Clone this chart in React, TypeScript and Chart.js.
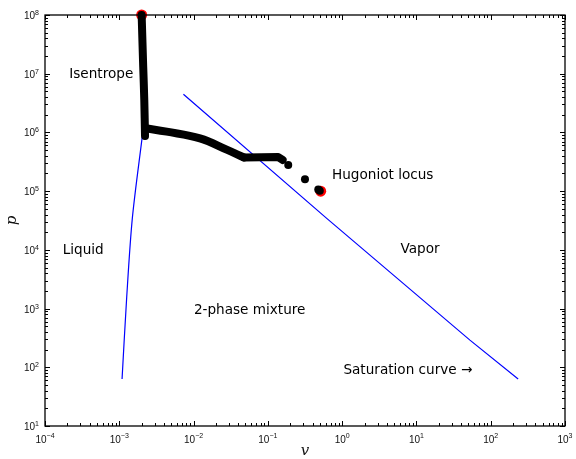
import { useEffect, useRef } from 'react';
import { Chart, registerables } from 'chart.js';

Chart.register(...registerables);

// Isentrope (dense black band) from the initial state downward
const isentropeV = [2.0e-3, 2.1e-3, 2.17e-3, 2.22e-3];
const isentropeP = [1e8, 1.3e7, 3.6e6, 8.7e5];

// Hugoniot locus: curved branch, then the plateau
const hugoniotV = [2.25e-3, 4.35e-3, 0.0122, 0.0279, 0.0477];
const hugoniotP = [1.18e6, 1.03e6, 7.9e5, 5.1e5, 3.75e5];
const plateauV = [0.0477, 0.138, 0.158];
const plateauP = [3.75e5, 3.8e5, 3.4e5];

// Hugoniot locus, isolated states near the end
const tailV = [0.188, 0.316, 0.477, 0.5];
const tailP = [2.8e5, 1.6e5, 1.07e5, 1.02e5];

// Initial and final states
const endV = [2.0e-3, 0.514];
const endP = [1e8, 1.0e5];

// Saturation curve: liquid branch and vapor branch
const liquidV = [1.09e-3, 1.26e-3, 1.5e-3, 2.05e-3];
const liquidP = [63, 1600, 3.5e4, 9.0e5];
const vaporV = [7.3e-3, 0.62, 52.5, 234];
const vaporP = [4.46e6, 3.44e4, 290, 63];

// Decade exponents for the axis tick labels
const xTickExp = [-4, -3, -2, -1, 0, 1, 2, 3];
const yTickExp = [1, 2, 3, 4, 5, 6, 7, 8];

// Region notes (left edge, baseline) in data coordinates
const noteText = ['Isentrope', 'Hugoniot locus', 'Liquid', 'Vapor', '2-phase mixture', 'Saturation curve \u2192'];
const noteV = [2.12e-4, 0.73, 1.73e-4, 6.1, 0.0101, 1.04];
const noteP = [8.4e6, 1.59e5, 8.4e3, 8.7e3, 805, 76.5];

const pts = (xs: number[], ys: number[]) => xs.map((x, i) => ({ x, y: ys[i] }));

const supLabel = (exp: number) => (exp < 0 ? '\u2212' + Math.abs(exp) : String(exp));

const framePlugin = {
  id: 'frame',
  afterDraw(chart: any) {
    const { ctx, chartArea: a, scales } = chart;
    const xs = scales.x;
    const ys = scales.y;
    ctx.save();

    // ticks, inward on all four sides
    ctx.strokeStyle = '#000';
    ctx.lineWidth = 1;
    ctx.beginPath();
    for (let e = xTickExp[0]; e <= xTickExp[xTickExp.length - 1]; e++) {
      for (let m = 1; m <= 9; m++) {
        if (e === xTickExp[xTickExp.length - 1] && m > 1) break;
        const px = Math.round(xs.getPixelForValue(m * Math.pow(10, e))) + 0.5;
        const len = m === 1 ? 5 : 3;
        ctx.moveTo(px, a.bottom);
        ctx.lineTo(px, a.bottom - len);
        ctx.moveTo(px, a.top);
        ctx.lineTo(px, a.top + len);
      }
    }
    for (let e = yTickExp[0]; e <= yTickExp[yTickExp.length - 1]; e++) {
      for (let m = 1; m <= 9; m++) {
        if (e === yTickExp[yTickExp.length - 1] && m > 1) break;
        const py = Math.round(ys.getPixelForValue(m * Math.pow(10, e))) + 0.5;
        const len = m === 1 ? 5 : 3;
        ctx.moveTo(a.left, py);
        ctx.lineTo(a.left + len, py);
        ctx.moveTo(a.right, py);
        ctx.lineTo(a.right - len, py);
      }
    }
    ctx.stroke();

    // frame
    ctx.lineWidth = 1.3;
    ctx.strokeRect(a.left, a.top, a.right - a.left, a.bottom - a.top);

    // tick labels: 10 with superscript exponent
    ctx.fillStyle = '#111';
    const baseFont = '10px "Liberation Sans", Arial, sans-serif';
    const supFont = '7px "Liberation Sans", Arial, sans-serif';
    ctx.textBaseline = 'alphabetic';
    xTickExp.forEach((e) => {
      const px = xs.getPixelForValue(Math.pow(10, e));
      const s = supLabel(e);
      ctx.font = baseFont;
      const wb = ctx.measureText('10').width;
      ctx.font = supFont;
      const ws = ctx.measureText(s).width;
      const x0 = px - (wb + ws) / 2;
      ctx.textAlign = 'left';
      ctx.font = baseFont;
      ctx.fillText('10', x0, a.bottom + 17);
      ctx.font = supFont;
      ctx.fillText(s, x0 + wb, a.bottom + 12);
    });
    yTickExp.forEach((e) => {
      const py = ys.getPixelForValue(Math.pow(10, e));
      const s = supLabel(e);
      ctx.font = supFont;
      const ws = ctx.measureText(s).width;
      const xr = a.left - 6;
      ctx.textAlign = 'right';
      ctx.fillText(s, xr, py);
      ctx.font = baseFont;
      ctx.fillText('10', xr - ws, py + 4);
    });

    // axis titles
    ctx.font = 'italic 15px "DejaVu Serif", "Liberation Serif", serif';
    ctx.textAlign = 'center';
    ctx.textBaseline = 'middle';
    ctx.fillText('v', (a.left + a.right) / 2, a.bottom + 25);
    ctx.save();
    ctx.translate(12, (a.top + a.bottom) / 2);
    ctx.rotate(-Math.PI / 2);
    ctx.fillText('p', 0, 0);
    ctx.restore();

    // region notes
    ctx.font = '13.6px "DejaVu Sans", sans-serif';
    ctx.textAlign = 'left';
    ctx.textBaseline = 'alphabetic';
    ctx.fillStyle = '#000';
    noteText.forEach((t, i) => {
      ctx.fillText(t, xs.getPixelForValue(noteV[i]), ys.getPixelForValue(noteP[i]));
    });

    ctx.restore();
  },
};

const thickLine = (label: string, data: { x: number; y: number }[], tension: number) => ({
  label,
  data,
  showLine: true,
  borderColor: '#000',
  backgroundColor: '#000',
  borderWidth: 8,
  borderCapStyle: 'round',
  borderJoinStyle: 'round',
  pointRadius: 0,
  tension,
  clip: false,
});

export default function App() {
  const ref = useRef<HTMLCanvasElement | null>(null);

  useEffect(() => {
    document.body.style.margin = '0';
    const canvas = ref.current;
    if (!canvas) return;
    const chart = new Chart(canvas, {
      type: 'scatter',
      data: {
        datasets: [
          thickLine('Isentrope', pts(isentropeV, isentropeP), 0.3),
          thickLine('Hugoniot', pts(hugoniotV, hugoniotP), 0.4),
          thickLine('Hugoniot plateau', pts(plateauV, plateauP), 0),
          {
            label: 'Hugoniot states',
            data: pts(tailV, tailP),
            showLine: false,
            backgroundColor: '#000',
            borderColor: '#000',
            pointRadius: 4,
            borderWidth: 0,
            clip: false,
          },
          {
            label: 'End states',
            data: pts(endV, endP),
            showLine: false,
            backgroundColor: '#ff0000',
            borderColor: '#ff0000',
            pointRadius: 5.5,
            borderWidth: 0,
            clip: false,
          },
          {
            label: 'Saturated liquid',
            data: pts(liquidV, liquidP),
            showLine: true,
            borderColor: '#0000ff',
            borderWidth: 1.2,
            pointRadius: 0,
            tension: 0.3,
          },
          {
            label: 'Saturated vapor',
            data: pts(vaporV, vaporP),
            showLine: true,
            borderColor: '#0000ff',
            borderWidth: 1.2,
            pointRadius: 0,
          },
        ],
      } as any,
      options: {
        responsive: false,
        animation: false,
        events: [],
        layout: { padding: { left: 45, right: 11, top: 15, bottom: 33 } },
        plugins: { legend: { display: false }, tooltip: { enabled: false } },
        scales: {
          x: { type: 'logarithmic', min: 1e-4, max: 1e3, display: false },
          y: { type: 'logarithmic', min: 10, max: 1e8, display: false },
        },
      },
      plugins: [framePlugin],
    });
    return () => chart.destroy();
  }, []);

  return <canvas ref={ref} width={576} height={459} style={{ display: 'block' }} />;
}
